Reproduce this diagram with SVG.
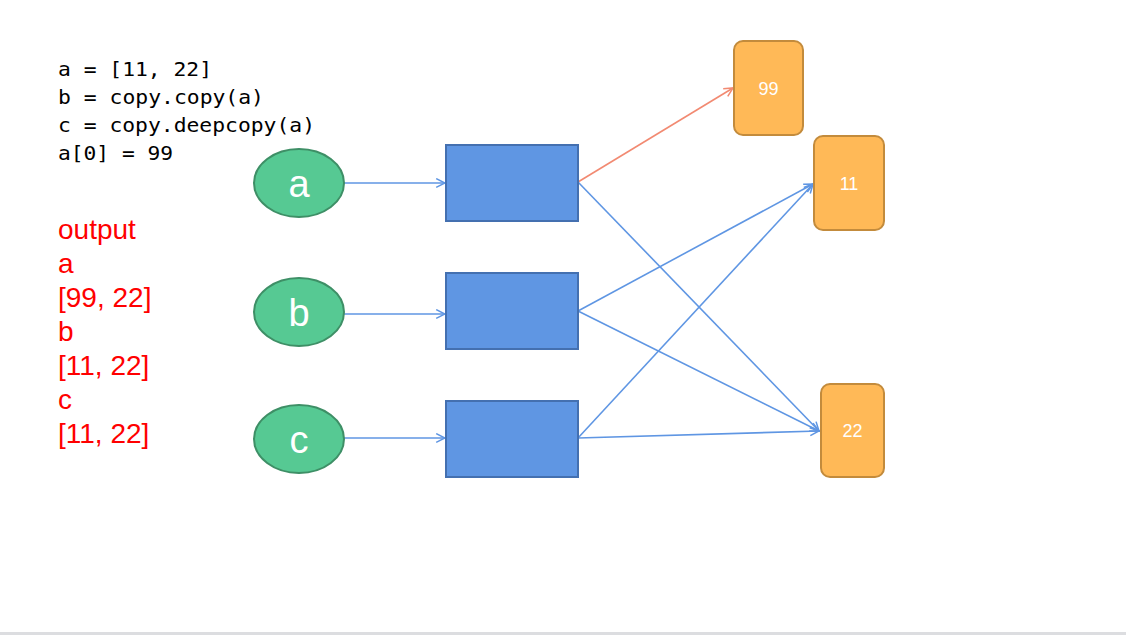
<svg xmlns="http://www.w3.org/2000/svg" width="1126" height="635" viewBox="0 0 1126 635">
<defs>
<style>
.code{font-family:"DejaVu Sans Mono","Liberation Mono",monospace;font-size:20px;fill:#000}
.out{font-family:"Liberation Sans",Arial,sans-serif;font-size:28px;fill:#ff0000}
.ell{fill:#56c993;stroke:#3e8f66;stroke-width:2}
.ellt{font-family:"Liberation Sans",Arial,sans-serif;font-size:38px;fill:#fff;text-anchor:middle}
.box{fill:#5f96e3;stroke:#4470b0;stroke-width:2}
.val{fill:#ffb957;stroke:#c38b3c;stroke-width:2}
.valt{font-family:"Liberation Sans",Arial,sans-serif;font-size:18px;fill:#fff;text-anchor:middle}
.e{stroke:#5f96e3;stroke-width:1.6;fill:none;marker-end:url(#ab)}
.r{stroke:#f28a72;stroke-width:1.6;fill:none;marker-end:url(#ar)}
</style>
<marker id="ab" viewBox="0 0 10 10" refX="9" refY="5" markerWidth="11" markerHeight="11" markerUnits="userSpaceOnUse" orient="auto"><path d="M1,1 L9,5 L1,9" fill="none" stroke="#5f96e3" stroke-width="1.4"/></marker>
<marker id="ar" viewBox="0 0 10 10" refX="9" refY="5" markerWidth="11" markerHeight="11" markerUnits="userSpaceOnUse" orient="auto"><path d="M1,1 L9,5 L1,9" fill="none" stroke="#f28a72" stroke-width="1.4"/></marker>
</defs>
<rect width="1126" height="635" fill="#fff"/>
<rect x="0" y="632" width="1126" height="3" fill="#dcdde0"/>
<g id="code">
<text class="code" x="58" y="76" textLength="154" lengthAdjust="spacingAndGlyphs">a = [11, 22]</text>
<text class="code" x="58" y="104" textLength="206" lengthAdjust="spacingAndGlyphs">b = copy.copy(a)</text>
<text class="code" x="58" y="132" textLength="257" lengthAdjust="spacingAndGlyphs">c = copy.deepcopy(a)</text>
<text class="code" x="58" y="160" textLength="115" lengthAdjust="spacingAndGlyphs">a[0] = 99</text>
</g>
<g id="output">
<text class="out" x="58" y="239">output</text>
<text class="out" x="58" y="273">a</text>
<text class="out" x="58" y="307">[99, 22]</text>
<text class="out" x="58" y="341">b</text>
<text class="out" x="58" y="375">[11, 22]</text>
<text class="out" x="58" y="409">c</text>
<text class="out" x="58" y="443">[11, 22]</text>
</g>
<g id="connectors">
<line class="e" x1="344" y1="183" x2="445" y2="183"/>
<line class="e" x1="344" y1="314" x2="445" y2="314"/>
<line class="e" x1="344" y1="438" x2="445" y2="438"/>
<line class="r" x1="578" y1="182" x2="733" y2="88"/>
<line class="e" x1="578" y1="182" x2="819" y2="431"/>
<line class="e" x1="578" y1="311" x2="813" y2="184"/>
<line class="e" x1="578" y1="311" x2="819" y2="431"/>
<line class="e" x1="578" y1="438" x2="813" y2="184"/>
<line class="e" x1="578" y1="438" x2="819" y2="431"/>
</g>
<g id="node-a"><ellipse class="ell" cx="299" cy="183" rx="45" ry="34"/><text class="ellt" x="299" y="197">a</text></g>
<g id="node-b"><ellipse class="ell" cx="299" cy="312" rx="45" ry="34"/><text class="ellt" x="299" y="326">b</text></g>
<g id="node-c"><ellipse class="ell" cx="299" cy="439" rx="45" ry="34"/><text class="ellt" x="299" y="453">c</text></g>
<g id="box-a"><rect class="box" x="446" y="145" width="132" height="76"/></g>
<g id="box-b"><rect class="box" x="446" y="273" width="132" height="76"/></g>
<g id="box-c"><rect class="box" x="446" y="401" width="132" height="76"/></g>
<g id="val-99"><rect class="val" x="734" y="41" width="69" height="94" rx="9"/><text class="valt" x="768.5" y="95">99</text></g>
<g id="val-11"><rect class="val" x="814" y="136" width="70" height="94" rx="9"/><text class="valt" x="849" y="190">11</text></g>
<g id="val-22"><rect class="val" x="821" y="384" width="63" height="93" rx="9"/><text class="valt" x="852.5" y="437">22</text></g>
</svg>
